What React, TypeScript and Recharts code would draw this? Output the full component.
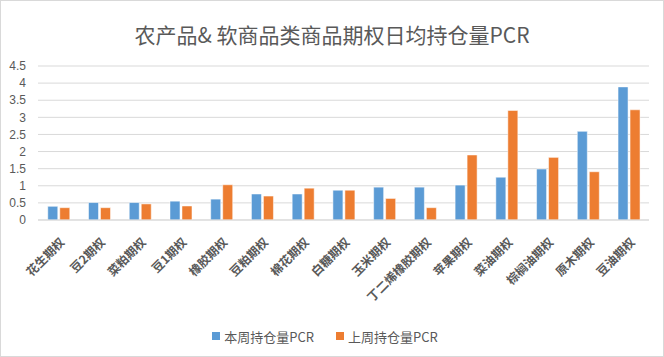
import { BarChart, Bar, XAxis, YAxis, CartesianGrid, Legend } from 'recharts'

const categories = ['花生期权', '豆2期权', '菜粕期权', '豆1期权', '橡胶期权', '豆粕期权', '棉花期权', '白糖期权', '玉米期权', '丁二烯橡胶期权', '苹果期权', '菜油期权', '棕榈油期权', '原木期权', '豆油期权']
const thisWeek = [0.4, 0.51, 0.51, 0.55, 0.61, 0.76, 0.76, 0.87, 0.96, 0.96, 1.02, 1.25, 1.49, 2.59, 3.89]
const lastWeek = [0.36, 0.36, 0.47, 0.41, 1.03, 0.7, 0.93, 0.87, 0.63, 0.36, 1.9, 3.2, 1.83, 1.41, 3.22]
const yTicks = [0, 0.5, 1, 1.5, 2, 2.5, 3, 3.5, 4, 4.5]

const BLUE = '#5b9bd5'
const ORANGE = '#ed7d31'
const GRAY = '#595959'

const data = categories.map((name, i) => ({
  name,
  thisWeek: thisWeek[i],
  lastWeek: lastWeek[i],
}))

// rotated category labels, anchored at the end near the tick
const CategoryTick = ({ x, y, payload }: any) => (
  <text
    x={x + 7}
    y={y + 15}
    transform={`rotate(-45 ${x + 7} ${y + 15})`}
    textAnchor="end"
    fontSize={12}
    fontWeight="bold"
    fontFamily='"Noto Sans CJK SC", sans-serif'
    fill={GRAY}
  >
    {payload.value}
  </text>
)

const LegendContent = () => (
  <div style={{ display: 'flex', justifyContent: 'center', alignItems: 'center', height: 40, paddingTop: 0 }}>
    {[
      { label: '本周持仓量PCR', color: BLUE },
      { label: '上周持仓量PCR', color: ORANGE },
    ].map((item, i) => (
      <div key={item.label} style={{ display: 'flex', alignItems: 'center', marginLeft: i ? 22 : 0 }}>
        <span style={{ width: 8, height: 8, background: item.color, display: 'inline-block', marginRight: 4 }} />
        <span style={{ fontSize: 13, color: GRAY, fontFamily: '"Noto Sans CJK SC", sans-serif' }}>
          {item.label}
        </span>
      </div>
    ))}
  </div>
)

export default function App() {
  return (
    <div style={{ position: 'absolute', top: 0, left: 0, width: 662, height: 355, border: '1px solid #d9d9d9', background: '#fff' }}>
      <div
        style={{
          position: 'absolute',
          top: 18,
          width: '100%',
          textAlign: 'center',
          fontSize: 21,
          color: GRAY,
          fontFamily: '"Noto Sans CJK SC", sans-serif',
        }}
      >
        农产品&amp; 软商品类商品期权日均持仓量PCR
      </div>
      <BarChart
        width={662}
        height={355}
        data={data}
        margin={{ top: 65, right: 14, left: 0, bottom: 0 }}
        barCategoryGap="24%"
        barGap={2}
      >
        <CartesianGrid vertical={false} stroke="#d9d9d9" />
        <XAxis
          dataKey="name"
          interval={0}
          tick={<CategoryTick />}
          tickLine={false}
          axisLine={{ stroke: '#d9d9d9' }}
          height={96}
        />
        <YAxis
          domain={[0, 4.5]}
          ticks={yTicks}
          interval={0}
          width={37}
          axisLine={false}
          tickLine={false}
          tickMargin={6}
          tick={{ fontSize: 12, fill: GRAY, fontFamily: '"Liberation Sans", sans-serif' }}
        />
        <Legend verticalAlign="bottom" content={<LegendContent />} wrapperStyle={{ height: 40 }} />
        <Bar dataKey="thisWeek" name="本周持仓量PCR" fill={BLUE} stroke="#ffffff" strokeOpacity={0.5} isAnimationActive={false} />
        <Bar dataKey="lastWeek" name="上周持仓量PCR" fill={ORANGE} stroke="#ffffff" strokeOpacity={0.5} isAnimationActive={false} />
      </BarChart>
    </div>
  )
}
